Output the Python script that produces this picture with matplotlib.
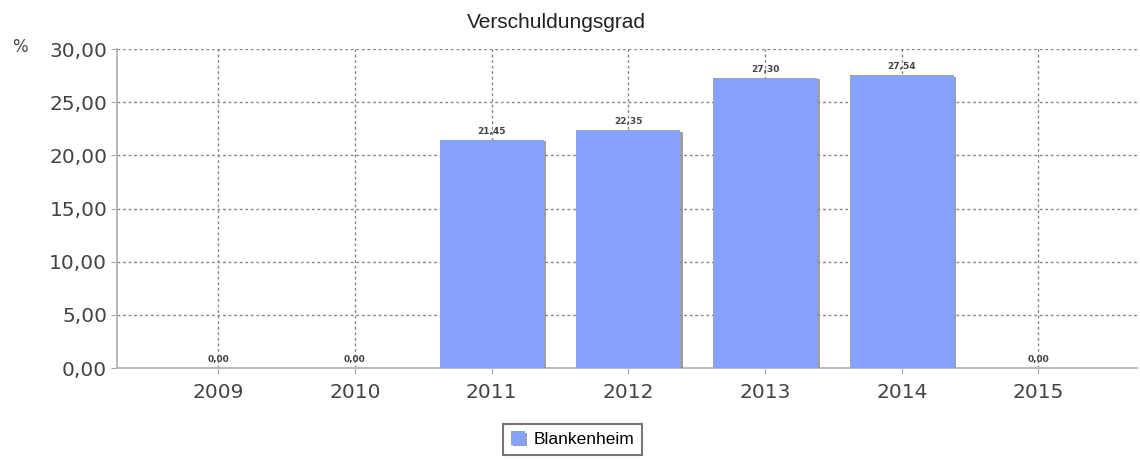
import matplotlib
matplotlib.use('Agg')
from matplotlib import pyplot as plt
from matplotlib import patheffects as pe
import numpy as np

years = ['2009', '2010', '2011', '2012', '2013', '2014', '2015']
values = [0.00, 0.00, 21.45, 22.35, 27.30, 27.54, 0.00]
value_labels = ['0,00', '0,00', '21,45', '22,35', '27,30', '27,54', '0,00']
y_ticks = [0, 5, 10, 15, 20, 25, 30]
y_tick_labels = ['0,00', '5,00', '10,00', '15,00', '20,00', '25,00', '30,00']
series_name = 'Blankenheim'
title = 'Verschuldungsgrad'

fig = plt.figure(figsize=(11.4, 4.61), dpi=100)
ax = fig.add_axes([0.1026, 0.2017, 0.8947, 0.692])

x = np.arange(len(years))
bars = ax.bar(x, values, width=0.76, color='#87a2fb', zorder=3, label=series_name,
              path_effects=[pe.SimplePatchShadow(offset=(2, -1), shadow_rgbFace='#888888', alpha=0.8),
                            pe.Normal()])

for xi, v, lab in zip(x, values, value_labels):
    ax.annotate(lab, (xi, v), xytext=(0, 3), textcoords='offset points',
                ha='center', va='bottom', fontsize=6.5, fontweight='bold', color='#444444', zorder=4)

ax.set_xlim(-0.74, 6.72)
ax.set_ylim(0, 30)
ax.set_xticks(x)
ax.set_xticklabels(years, fontsize=14.5, color='#444444')
ax.set_yticks(y_ticks)
ax.set_yticklabels(y_tick_labels, fontsize=14.5, color='#444444')
ax.tick_params(axis='both', length=4, color='#aaaaaa', pad=3)
ax.tick_params(axis='x', pad=7)

ax.grid(True, linestyle=(0, (2, 2)), color='#888888', linewidth=1, zorder=0)
for s in ['top', 'right']:
    ax.spines[s].set_visible(False)
ax.spines['left'].set_color('#bbbbbb')
ax.spines['bottom'].set_color('#bbbbbb')
ax.spines['left'].set_linewidth(1.5)
ax.spines['bottom'].set_linewidth(1.5)

fig.text(0.488, 0.952, title, ha='center', va='center', fontsize=15, family='Liberation Sans', color='#222222')
fig.text(0.011, 0.898, '%', ha='left', va='center', fontsize=12, color='#444444')

leg = fig.legend(handles=[bars], labels=[series_name], loc='center', bbox_to_anchor=(0.502, 0.047),
                 prop={'family': 'Liberation Sans', 'size': 12.5}, frameon=True, fancybox=False,
                 handlelength=0.8, handleheight=0.8, handletextpad=0.5, borderpad=0.45)
leg.get_frame().set_edgecolor('#555555')
leg.get_frame().set_linewidth(1.5)

fig.savefig('out.png', dpi=100)
